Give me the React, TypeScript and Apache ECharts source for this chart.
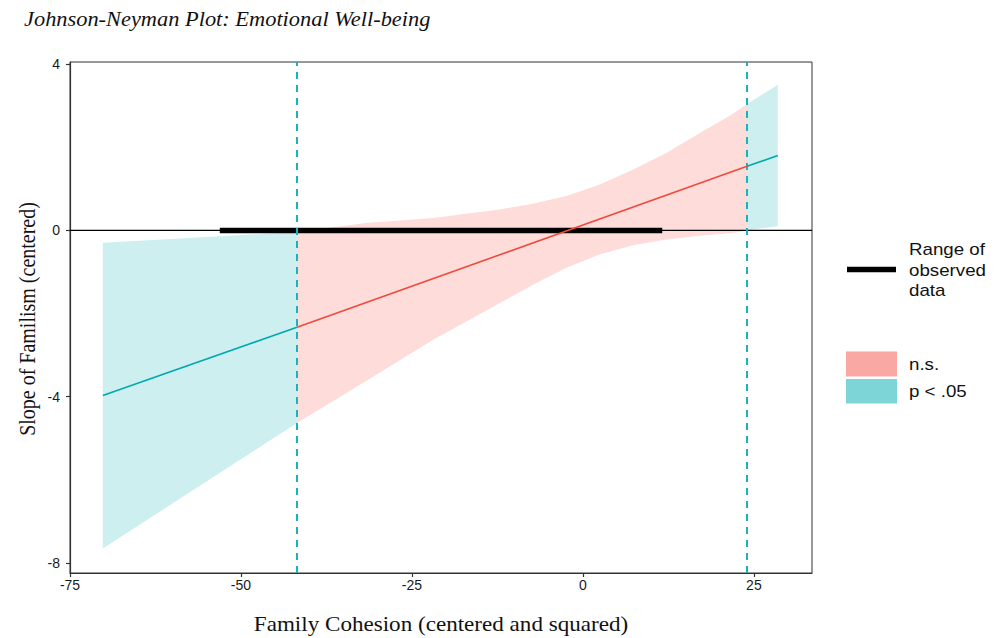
import React, { useEffect, useRef } from "react";
import * as echarts from "echarts";

// ---- data ----
const xTicks = [-75, -50, -25, 0, 25];
const yTicks = [-8, -4, 0, 4];

// estimated slope line, split by significance region
const lineLeftX = [-70.2, -41.8];
const lineLeftY = [-3.97, -2.33];
const lineMidX = [-41.8, 24.0];
const lineMidY = [-2.33, 1.54];
const lineRightX = [24.0, 28.5];
const lineRightY = [1.54, 1.8];

// confidence bands
const bandLeftX = [-70.2, -41.8];
const bandLeftLower = [-7.65, -4.63];
const bandLeftUpper = [-0.3, -0.04];
const bandMidX = [-41.8, -31.7, -21.9, -12.2, -7.3, -2.4, 2.4, 7.3, 12.2, 17.1, 21.9, 24.0];
const bandMidLower = [-4.63, -3.62, -2.63, -1.75, -1.31, -0.9, -0.58, -0.36, -0.22, -0.13, -0.06, 0.0];
const bandMidUpper = [-0.04, 0.18, 0.3, 0.5, 0.64, 0.83, 1.1, 1.46, 1.86, 2.34, 2.8, 3.04];
const bandRightX = [24.0, 28.5];
const bandRightLower = [0.0, 0.1];
const bandRightUpper = [3.04, 3.5];

// Johnson-Neyman bounds and observed data range
const jnBounds = [-41.8, 24.0];
const observedRange = [-53.1, 11.6];

const RED_BAND = "#FDDCDA";
const TEAL_BAND = "#CDEFF0";
const RED_LINE = "#F2493D";
const TEAL_LINE = "#00A9AD";
const DASH = "#18B4B9";

function bandSeries(X: number[], L: number[], U: number[], fill: string) {
  return {
    type: "custom",
    silent: true,
    clip: true,
    z: 1,
    data: X.map((x, i) => [x, L[i], U[i]]),
    encode: { x: 0, y: [1, 2] },
    renderItem: (params: any, api: any) => {
      if (params.dataIndex !== 0) return null;
      const top = X.map((x, i) => api.coord([x, U[i]]));
      const bot = X.map((x, i) => api.coord([x, L[i]])).reverse();
      return {
        type: "polygon",
        shape: { points: top.concat(bot) },
        style: { fill, stroke: null },
      };
    },
  };
}

function lineSeries(X: number[], Y: number[], color: string, width: number, z = 5) {
  return {
    type: "line",
    silent: true,
    showSymbol: false,
    symbol: "none",
    z,
    data: X.map((x, i) => [x, Y[i]]),
    lineStyle: { color, width, cap: "butt" },
  };
}

export default function App() {
  const ref = useRef<HTMLDivElement>(null);
  useEffect(() => {
    document.body.style.margin = "0";
    const chart = echarts.init(ref.current!, null, { renderer: "svg" });
    const serif = "Liberation Serif, Times New Roman, serif";
    const sans = "Liberation Sans, Arial, sans-serif";
    chart.setOption({
      animation: false,
      grid: {
        left: 70,
        right: 191,
        top: 62,
        bottom: 65,
        show: true,
        borderColor: "#333",
        borderWidth: 1,
        backgroundColor: "transparent",
      },
      xAxis: {
        type: "value",
        min: -75,
        max: 33.5,
        splitLine: { show: false },
        axisLine: { show: true, onZero: false, lineStyle: { color: "#333", width: 1.2 } },
        axisTick: { show: true, length: 4, customValues: xTicks, lineStyle: { color: "#333", width: 1.2 } },
        axisLabel: {
          customValues: xTicks,
          margin: 5,
          color: "#1a1a1a",
          fontSize: 14,
          fontFamily: sans,
        },
      },
      yAxis: {
        type: "value",
        min: -8.24,
        max: 4.05,
        splitLine: { show: false },
        axisLine: { show: true, onZero: false, lineStyle: { color: "#333", width: 1.2 } },
        axisTick: { show: true, length: 4, customValues: yTicks, lineStyle: { color: "#333", width: 1.2 } },
        axisLabel: {
          customValues: yTicks,
          margin: 10,
          color: "#1a1a1a",
          fontSize: 14,
          fontFamily: sans,
        },
      },
      series: [
        bandSeries(bandLeftX, bandLeftLower, bandLeftUpper, TEAL_BAND),
        bandSeries(bandMidX, bandMidLower, bandMidUpper, RED_BAND),
        bandSeries(bandRightX, bandRightLower, bandRightUpper, TEAL_BAND),
        lineSeries([-75, 33.5], [0, 0], "#000", 1.3, 3),
        lineSeries(observedRange, [0, 0], "#000", 5.5, 4),
        lineSeries(lineLeftX, lineLeftY, TEAL_LINE, 1.6),
        lineSeries(lineMidX, lineMidY, RED_LINE, 1.6),
        {
          ...lineSeries(lineRightX, lineRightY, TEAL_LINE, 1.6),
          markLine: {
            silent: true,
            symbol: "none",
            label: { show: false },
            lineStyle: { color: DASH, width: 2, type: [7, 6] },
            data: jnBounds.map((v) => ({ xAxis: v })),
          },
        },
      ],
      graphic: [
        {
          type: "text",
          x: 24,
          y: 19,
          scaleX: 1.12,
          style: {
            text: "Johnson-Neyman Plot: Emotional Well-being",
            fontFamily: serif,
            fontStyle: "italic",
            fontSize: 20,
            fill: "#111",
            verticalAlign: "middle",
          },
        },
        {
          type: "text",
          x: 441,
          y: 625,
          scaleX: 1.155,
          style: {
            text: "Family Cohesion (centered and squared)",
            fontFamily: serif,
            fontSize: 20,
            fill: "#111",
            align: "center",
            verticalAlign: "middle",
          },
        },
        {
          type: "text",
          x: 28,
          y: 319,
          rotation: Math.PI / 2,
          scaleY: 1.12,
          style: {
            text: "Slope of Familism (centered)",
            fontFamily: serif,
            fontSize: 20,
            fill: "#111",
            align: "center",
            verticalAlign: "middle",
          },
        },
        {
          type: "line",
          shape: { x1: 847, y1: 269.5, x2: 896, y2: 269.5 },
          style: { stroke: "#000", lineWidth: 5.5 },
        },
        {
          type: "text",
          x: 909,
          y: 270,
          scaleX: 1.17,
          style: {
            text: "Range of\nobserved\ndata",
            fontFamily: sans,
            fontSize: 16,
            lineHeight: 20.5,
            fill: "#111",
            verticalAlign: "middle",
          },
        },
        {
          type: "rect",
          shape: { x: 846, y: 351.5, width: 51, height: 25 },
          style: { fill: "#F9A8A3" },
        },
        {
          type: "rect",
          shape: { x: 846, y: 379, width: 51, height: 24.5 },
          style: { fill: "#7DD5D7" },
        },
        {
          type: "text",
          x: 909,
          y: 364,
          scaleX: 1.17,
          style: { text: "n.s.", fontFamily: sans, fontSize: 16, fill: "#111", verticalAlign: "middle" },
        },
        {
          type: "text",
          x: 909,
          y: 391.5,
          scaleX: 1.17,
          style: { text: "p < .05", fontFamily: sans, fontSize: 16, fill: "#111", verticalAlign: "middle" },
        },
      ],
    });
    return () => chart.dispose();
  }, []);
  return <div ref={ref} style={{ width: 1003, height: 638 }} />;
}
